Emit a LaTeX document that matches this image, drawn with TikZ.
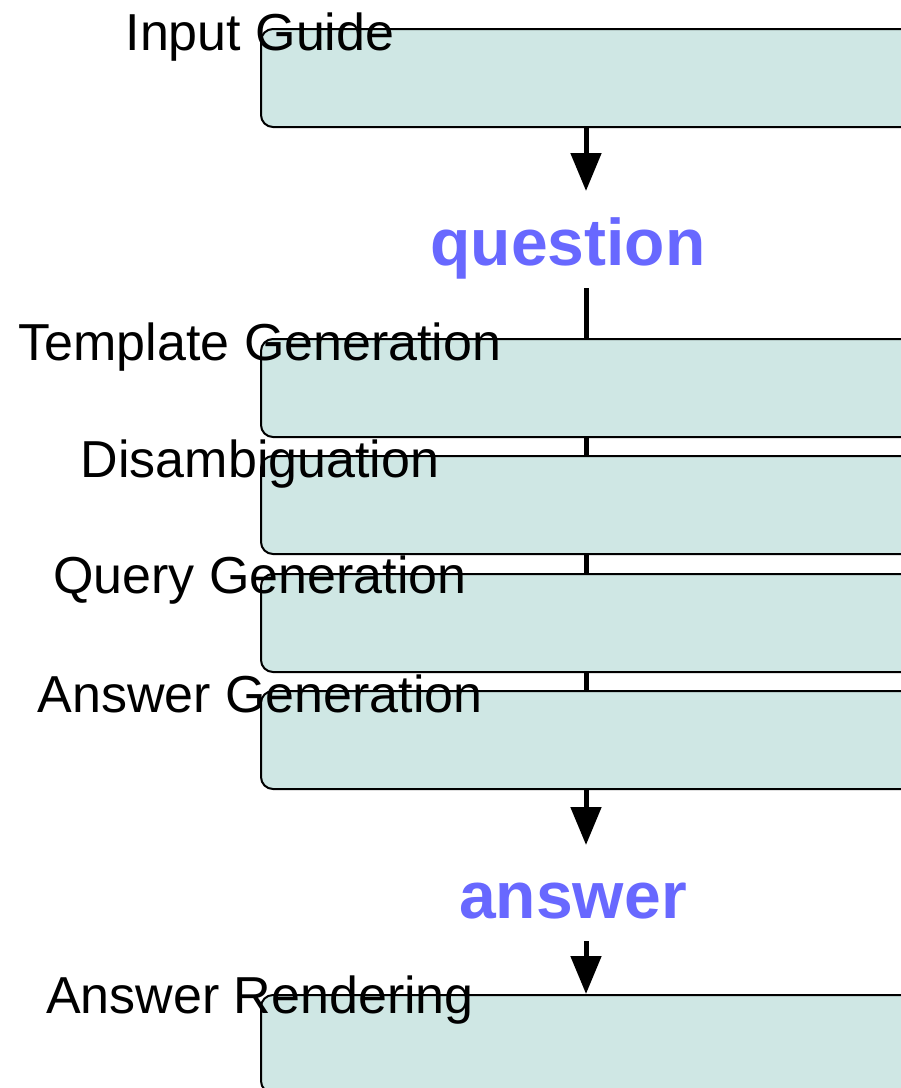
\documentclass[tikz,border=0pt]{standalone}
\usepackage{fontspec}
\setmainfont{Liberation Sans}
\usetikzlibrary{arrows.meta}
\definecolor{boxfill}{HTML}{CFE7E4}
\definecolor{flowblue}{HTML}{6868FF}
\begin{document}
\begin{tikzpicture}[x=1pt,y=-1pt,
  stagebox/.style={draw=black, line width=2pt, fill=boxfill, rounded corners=12pt,
    anchor=north west, minimum width=700pt, minimum height=98pt, inner sep=0pt},
  stagelabel/.style={anchor=base, inner sep=0pt, font=\fontsize{52}{60}\selectfont},
  flowword/.style={anchor=base, inner sep=0pt, text=flowblue, font=\fontsize{66}{74}\selectfont\bfseries},
  flowline/.style={line width=5pt, draw=black},
  flowarrow/.style={line width=5pt, draw=black, -{Triangle[width=30pt,length=38pt]}}]
\useasboundingbox (0,0) rectangle (901,1088);
\clip (0,0) rectangle (901,1088);
\coordinate (axis) at (586,0);
\coordinate (qtop) at (586,191);
\coordinate (qbot) at (586,288);
\coordinate (atop) at (586,845);
\coordinate (abot) at (586,941);

\node[stagebox] (b1) at (260,28) {};
\node[stagebox] (b2) at (260,338) {};
\node[stagebox] (b3) at (260,455) {};
\node[stagebox] (b4) at (260,573) {};
\node[stagebox] (b5) at (260,690) {};
\node[stagebox] (b6) at (260,994) {};

\node[flowword] (question) at (568,265) {question};
\node[flowword] (answer) at (573,918) {answer};

\draw[flowarrow] (b1.south -| axis) -- (qtop);
\draw[flowline] (qbot) -- (b2.north -| axis);
\draw[flowline] (b2.south -| axis) -- (b3.north -| axis);
\draw[flowline] (b3.south -| axis) -- (b4.north -| axis);
\draw[flowline] (b4.south -| axis) -- (b5.north -| axis);
\draw[flowarrow] (b5.south -| axis) -- (atop);
\draw[flowarrow] (abot) -- (b6.north -| axis);

\node[stagelabel] (l1) at (260,50) {Input Guide};
\node[stagelabel] (l2) at (260,360) {Template Generation};
\node[stagelabel] (l3) at (260,477) {Disambiguation};
\node[stagelabel] (l4) at (260,593) {Query Generation};
\node[stagelabel] (l5) at (260,712) {Answer Generation};
\node[stagelabel] (l6) at (260,1013) {Answer Rendering};
\end{tikzpicture}
\end{document}
